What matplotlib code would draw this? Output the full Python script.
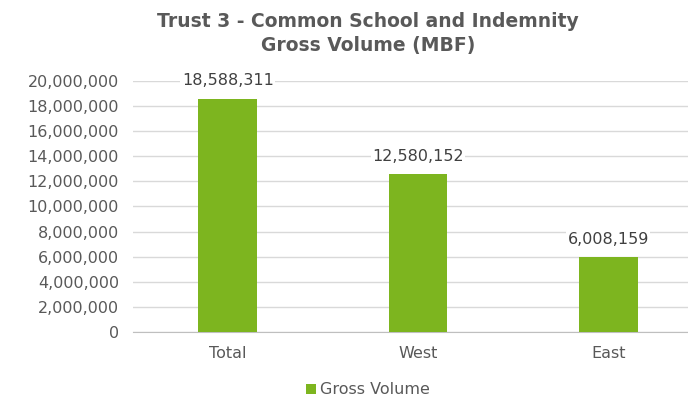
import matplotlib.pyplot as plt
from matplotlib.ticker import FuncFormatter
from matplotlib.patches import Patch

categories = ["Total", "West", "East"]
gross_volume = [18588311, 12580152, 6008159]
y_ticks = list(range(0, 20000001, 2000000))

bar_color = "#7db51f"
text_color = "#595959"
grid_color = "#d9d9d9"

plt.rcParams['font.family'] = ['DejaVu Sans']

fig = plt.figure(figsize=(6.88, 4.04), dpi=100)
ax = fig.add_axes([0.193, 0.178, 0.807, 0.622])

x = range(len(categories))
bars = ax.bar(x, gross_volume, width=0.31, color=bar_color, zorder=3,
              label="Gross Volume")

for rect, val in zip(bars, gross_volume):
    ax.text(rect.get_x() + rect.get_width() / 2, val + 1400000, f"{val:,}",
            ha="center", va="center", fontsize=11.5, color="#404040", zorder=4,
            bbox=dict(facecolor="white", edgecolor="none", pad=1))

ax.set_xlim(-0.5, 2.42)
ax.set_ylim(0, 20000000)
ax.set_yticks(y_ticks)
ax.yaxis.set_major_formatter(FuncFormatter(lambda v, p: f"{int(v):,}"))
ax.set_xticks(list(x))
ax.set_xticklabels(categories)
ax.tick_params(axis="both", length=0, labelsize=11.5, colors=text_color)
ax.tick_params(axis="y", pad=10)
ax.tick_params(axis="x", pad=10)
ax.grid(axis="y", color=grid_color, linewidth=1, zorder=0)
for s in ["top", "right", "left"]:
    ax.spines[s].set_visible(False)
ax.spines["bottom"].set_color("#bfbfbf")

fig.suptitle("Trust 3 - Common School and Indemnity\nGross Volume (MBF)",
             x=0.535, y=0.97, fontsize=13.5, fontweight="bold", color=text_color,
             linespacing=1.3)

handle = Patch(facecolor=bar_color, edgecolor="none")
fig.legend([handle], ["Gross Volume"], loc="center", bbox_to_anchor=(0.535, 0.035),
           frameon=False, fontsize=11.5, labelcolor=text_color,
           handlelength=0.6, handleheight=0.6, handletextpad=0.3)

fig.savefig("out.png", dpi=100)
